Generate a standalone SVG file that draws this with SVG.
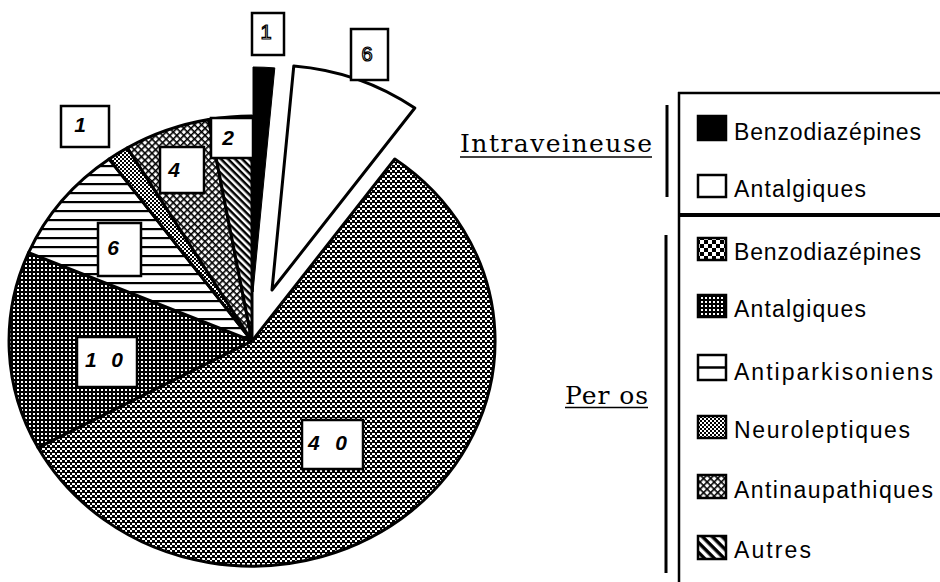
<svg xmlns="http://www.w3.org/2000/svg" width="940" height="582" viewBox="0 0 940 582">
<style>
.sl{stroke:#000;stroke-width:3;stroke-linejoin:round}
.bx{fill:#fff;stroke:#000;stroke-width:2.5}
.num{font-family:"Liberation Sans",Arial,sans-serif;font-size:21px;font-style:italic;font-weight:bold;fill:#000}
.top{font-family:"Liberation Sans",Arial,sans-serif;font-size:20px;fill:#fff;stroke:#000;stroke-width:1.2;text-anchor:middle}
.lg{font-family:"Liberation Sans",Arial,sans-serif;font-size:23px;fill:#000}
.hd{font-family:"DejaVu Serif","Liberation Serif",serif;font-size:25px;fill:#000}
.sw{stroke:#000;stroke-width:2.5}
.ln{stroke:#000;fill:none}
</style>
<defs>
<pattern id="chk" width="10" height="10" patternUnits="userSpaceOnUse"><rect width="10" height="10" fill="#000"/><path d="M0 0h2v2H0zM5 0h2v2H5zM0 5h2v2H0zM5 5h2v2H5zM2 3h3v2H2zM7 3h3v2H7zM2 8h3v2H2zM7 8h3v2H7z" fill="#fff"/></pattern>
<pattern id="chkL" width="8" height="8" patternUnits="userSpaceOnUse"><rect width="8" height="8" fill="#fff"/><rect width="4" height="4" fill="#000"/><rect x="4" y="4" width="4" height="4" fill="#000"/></pattern>
<pattern id="dots" width="4" height="4" patternUnits="userSpaceOnUse"><rect width="4" height="4" fill="#000"/><rect x="1" y="1" width="2" height="2" fill="#fff"/></pattern>
<pattern id="fine" width="4" height="4" patternUnits="userSpaceOnUse"><rect width="4" height="4" fill="#fff"/><rect width="2" height="2" fill="#000"/><rect x="2" y="2" width="2" height="2" fill="#000"/></pattern>
<pattern id="hor" width="9" height="9" patternUnits="userSpaceOnUse"><rect width="9" height="9" fill="#fff"/><rect y="3" width="9" height="2.2" fill="#000"/></pattern>
<pattern id="xh" width="5" height="5" patternUnits="userSpaceOnUse" patternTransform="rotate(45)"><rect width="5" height="5" fill="#fff"/><rect width="5" height="1.6" fill="#000"/><rect width="1.6" height="5" fill="#000"/></pattern>
<pattern id="diag" width="5" height="5" patternUnits="userSpaceOnUse" patternTransform="rotate(45)"><rect width="5" height="5" fill="#fff"/><rect width="5" height="2.5" fill="#000"/></pattern>
<pattern id="diagL" width="7" height="7" patternUnits="userSpaceOnUse" patternTransform="rotate(45)"><rect width="7" height="7" fill="#fff"/><rect width="7" height="3.5" fill="#000"/></pattern>
</defs>
<rect width="940" height="582" fill="#fff"/>

<g id="pie">
<g id="slice-po-benzo"><path class="sl" fill="url(#chk)" d="M252,341 L394.8,159 A243,225 0 1 1 38,447.6 Z"/></g>
<g id="slice-po-antalg"><path class="sl" fill="url(#dots)" d="M252,341 L38,447.6 A243,225 0 0 1 28.6,252.6 Z"/></g>
<g id="slice-po-antipark"><path class="sl" fill="url(#hor)" d="M252,341 L28.6,252.6 A243,225 0 0 1 109.2,159 Z"/></g>
<g id="slice-po-neuro"><path class="sl" fill="url(#fine)" d="M252,341 L109.2,159 A243,225 0 0 1 127.4,147.9 Z"/></g>
<g id="slice-po-antinau"><path class="sl" fill="url(#xh)" d="M252,341 L127.4,147.9 A243,225 0 0 1 208.6,119.6 Z"/></g>
<g id="slice-po-autres"><path class="sl" fill="url(#diag)" d="M252,341 L208.6,119.6 A243,225 0 0 1 252,116 Z"/></g>
<g id="slice-iv-antalg"><path class="sl" fill="#fff" d="M272,290 L293.8,65.9 A243,225 0 0 1 414.8,108 Z"/></g>
<g id="slice-iv-benzo"><path fill="#000" stroke="#000" stroke-width="1" d="M253,292 L253,67 A243,225 0 0 1 274.8,67.9 Z"/></g>
</g>

<g id="labels">
<g id="lab-iv-1"><rect class="bx" x="252" y="13" width="32" height="42"/><text class="top" x="266" y="39">1</text></g>
<g id="lab-iv-6"><rect class="bx" x="351" y="29" width="37" height="51"/><text class="top" x="367" y="61" stroke-width="2">6</text></g>
<g id="lab-neuro-1"><rect class="bx" x="61" y="106" width="48" height="41"/><text class="num" x="80" y="132" text-anchor="middle">1</text></g>
<g id="lab-autres-2"><rect class="bx" x="211" y="118" width="42" height="40"/><text class="num" x="228" y="145" text-anchor="middle">2</text></g>
<g id="lab-antinau-4"><rect class="bx" x="160" y="147" width="44" height="46"/><text class="num" x="174" y="177" text-anchor="middle">4</text></g>
<g id="lab-antipark-6"><rect class="bx" x="98" y="223" width="43" height="53"/><text class="num" x="113" y="255" text-anchor="middle">6</text></g>
<g id="lab-antalg-10"><rect class="bx" x="77" y="337" width="60" height="50"/><text class="num" x="85" y="367" textLength="38" lengthAdjust="spacing">1 0</text></g>
<g id="lab-benzo-40"><rect class="bx" x="302" y="420" width="61" height="49"/><text class="num" x="308" y="450" textLength="39" lengthAdjust="spacing">4 0</text></g>
</g>

<g id="legend">
<g id="frame">
<path class="ln" stroke-width="2.5" d="M678,93 H940"/>
<path class="ln" stroke-width="2.5" d="M679,92 V582"/>
<path class="ln" stroke-width="4" d="M679,215 H940"/>
<path class="ln" stroke-width="3" d="M667,105 V197"/>
<path class="ln" stroke-width="3" d="M666,235 V573"/>
</g>
<g id="hd-iv"><text class="hd" x="460" y="152" textLength="192" lengthAdjust="spacing">Intraveineuse</text><path class="ln" stroke-width="1.5" d="M460,157 H652"/></g>
<g id="hd-po"><text class="hd" x="565" y="404" textLength="83" lengthAdjust="spacing">Per os</text><path class="ln" stroke-width="1.5" d="M565,407.5 H648"/></g>

<g id="lg-iv-benzo"><rect class="sw" x="698" y="116" width="28" height="24" fill="#000"/><text class="lg" x="734" y="140" textLength="187" lengthAdjust="spacing">Benzodiazépines</text></g>
<g id="lg-iv-antalg"><rect class="sw" x="698" y="175" width="28" height="22" fill="#fff"/><text class="lg" x="734" y="197" textLength="132" lengthAdjust="spacing">Antalgiques</text></g>
<g id="lg-po-benzo"><rect class="sw" x="698" y="238" width="28" height="22" fill="url(#chkL)"/><text class="lg" x="734" y="260" textLength="187" lengthAdjust="spacing">Benzodiazépines</text></g>
<g id="lg-po-antalg"><rect class="sw" x="698" y="295" width="28" height="22" fill="url(#dots)"/><text class="lg" x="734" y="317" textLength="132" lengthAdjust="spacing">Antalgiques</text></g>
<g id="lg-po-antipark"><rect class="sw" x="698" y="355" width="28" height="25" fill="#fff"/><path class="ln" stroke-width="2.5" d="M698,367.5 H726"/><text class="lg" x="734" y="380" textLength="199" lengthAdjust="spacing">Antiparkisoniens</text></g>
<g id="lg-po-neuro"><rect class="sw" x="698" y="416" width="28" height="22" fill="url(#fine)"/><text class="lg" x="734" y="438" textLength="176" lengthAdjust="spacing">Neuroleptiques</text></g>
<g id="lg-po-antinau"><rect class="sw" x="698" y="475" width="28" height="23" fill="url(#xh)"/><text class="lg" x="734" y="498" textLength="199" lengthAdjust="spacing">Antinaupathiques</text></g>
<g id="lg-po-autres"><rect class="sw" x="698" y="536" width="28" height="23" fill="url(#diagL)"/><text class="lg" x="734" y="558" textLength="77" lengthAdjust="spacing">Autres</text></g>
</g>
</svg>
